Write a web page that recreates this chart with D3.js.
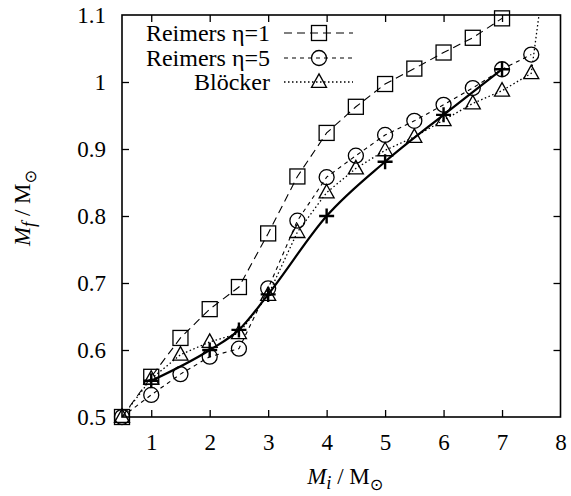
<!DOCTYPE html>
<html>
<head>
<meta charset="utf-8">
<script src="https://cdn.jsdelivr.net/npm/d3@7"></script>
<style>
  body { margin: 0; background: #fff; }
  svg text { font-family: "Liberation Serif", "Times New Roman", Times, serif; fill: #000; }
</style>
</head>
<body>
<div id="chart-area"></div>
<script>
// DATA ----------------------------------------------------------------------
const massInit = [0.5, 1, 1.5, 2, 2.5, 3, 3.5, 4, 4.5, 5, 5.5, 6, 6.5, 7]
const reimers1 = [0.5, 0.56, 0.618, 0.661, 0.694, 0.774, 0.859, 0.924, 0.963, 0.997, 1.020, 1.044, 1.066, 1.095]

const massInit5 = [0.5, 1, 1.5, 2, 2.5, 3, 3.5, 4, 4.5, 5, 5.5, 6, 6.5, 7, 7.5]
const reimers5 = [0.5, 0.533, 0.564, 0.590, 0.602, 0.692, 0.793, 0.858, 0.890, 0.921, 0.942, 0.966, 0.991, 1.019, 1.041]

const massInitB = [0.5, 1, 1.5, 2, 2.5, 3, 3.5, 4, 4.5, 5, 5.5, 6, 6.5, 7, 7.5, 7.7]
const bloecker = [0.5, 0.557, 0.593, 0.612, 0.625, 0.682, 0.776, 0.835, 0.871, 0.898, 0.918, 0.943, 0.968, 0.987, 1.013, 1.145]

const massInitP = [1, 2, 2.5, 3, 4, 5, 6, 7]
const plusSeries = [0.554, 0.600, 0.630, 0.683, 0.800, 0.881, 0.951, 1.019]

const xTicks = [1, 2, 3, 4, 5, 6, 7, 8]
const yTicks = [0.5, 0.6, 0.7, 0.8, 0.9, 1, 1.1]
const legendNames = ["Reimers η=1", "Reimers η=5", "Blöcker"]

// MARGIN CONVENTION ---------------------------------------------------------
const W = 571, H = 496
const MARGIN = { LEFT: 122, RIGHT: 10.5, TOP: 15, BOTTOM: 79 }
const WIDTH = W - MARGIN.LEFT - MARGIN.RIGHT
const HEIGHT = H - MARGIN.TOP - MARGIN.BOTTOM
const SERIF = '"Liberation Serif", "Times New Roman", Times, serif'

const svg = d3.select("#chart-area").append("svg")
  .attr("width", W)
  .attr("height", H)
const g = svg.append("g")
  .attr("transform", `translate(${MARGIN.LEFT}, ${MARGIN.TOP})`)

svg.append("defs").append("clipPath").attr("id", "plot-clip")
  .append("rect").attr("x", 0).attr("y", 0).attr("width", WIDTH).attr("height", HEIGHT)

// SCALES --------------------------------------------------------------------
const x = d3.scaleLinear().domain([0.5, 8]).range([0, WIDTH])
const y = d3.scaleLinear().domain([0.5, 1.1]).range([HEIGHT, 0])

const FONT = 23
const LEGEND_FONT = 24
const TICK = 7

// AXES (ticks inward, mirrored) --------------------------------------------
const axB = g.append("g").attr("transform", `translate(0, ${HEIGHT})`)
  .call(d3.axisBottom(x).tickValues(xTicks).tickSize(-TICK).tickPadding(TICK + 10).tickFormat(d3.format("d")))
const axT = g.append("g")
  .call(d3.axisTop(x).tickValues(xTicks).tickSize(-TICK).tickFormat(""))
const axL = g.append("g")
  .call(d3.axisLeft(y).tickValues(yTicks).tickSize(-TICK).tickPadding(TICK + 9).tickFormat(d => d3.format("~g")(d)))
const axR = g.append("g").attr("transform", `translate(${WIDTH}, 0)`)
  .call(d3.axisRight(y).tickValues(yTicks).tickSize(-TICK).tickFormat(""))

;[axB, axT, axL, axR].forEach(a => {
  a.attr("font-family", null)
  a.select(".domain").remove()
  a.selectAll(".tick line").attr("stroke", "#000").attr("stroke-width", 1.3)
  a.selectAll("text").style("font-size", FONT + "px").style("font-family", SERIF)
})
// end ticks sitting on corners are not drawn in the original
axB.selectAll(".tick line").filter(d => d === 8).remove()
axT.selectAll(".tick line").filter(d => d === 8).remove()
axL.selectAll(".tick line").filter(d => d === 0.5 || d === 1.1).remove()
axR.selectAll(".tick line").filter(d => d === 0.5 || d === 1.1).remove()

// SERIES --------------------------------------------------------------------
const series = [
  { xs: massInit,  ys: reimers1,   dash: "8,5",     width: 1.1, marker: "square",   curve: d3.curveLinear },
  { xs: massInit5, ys: reimers5,   dash: "4,4",     width: 1.1, marker: "circle",   curve: d3.curveLinear },
  { xs: massInitB, ys: bloecker,   dash: "1.5,2.5", width: 1.3, marker: "triangle", curve: d3.curveLinear },
  { xs: massInitP, ys: plusSeries, dash: null,      width: 2.2, marker: "plus",     curve: d3.curveMonotoneX }
]

const lines = g.append("g").attr("clip-path", "url(#plot-clip)")
const marks = g.append("g")

function drawMarker(sel, type, cx, cy) {
  const s = 7.5
  if (type === "square") {
    sel.append("rect").attr("x", cx - s).attr("y", cy - s).attr("width", 2 * s).attr("height", 2 * s)
      .attr("fill", "none").attr("stroke", "#000").attr("stroke-width", 1.3)
  } else if (type === "circle") {
    sel.append("circle").attr("cx", cx).attr("cy", cy).attr("r", s)
      .attr("fill", "none").attr("stroke", "#000").attr("stroke-width", 1.3)
  } else if (type === "triangle") {
    const h = s * 1.8
    sel.append("path")
      .attr("d", `M${cx},${cy - h * 0.6}L${cx + s},${cy + h * 0.4}L${cx - s},${cy + h * 0.4}Z`)
      .attr("fill", "none").attr("stroke", "#000").attr("stroke-width", 1.3)
  } else if (type === "plus") {
    sel.append("path")
      .attr("d", `M${cx - s},${cy}H${cx + s}M${cx},${cy - s}V${cy + s}`)
      .attr("fill", "none").attr("stroke", "#000").attr("stroke-width", 2.4)
  }
}

series.forEach(s => {
  const pts = s.xs.map((v, i) => [v, s.ys[i]])
  const line = d3.line().x(d => x(d[0])).y(d => y(d[1])).curve(s.curve)
  lines.append("path")
    .attr("d", line(pts))
    .attr("fill", "none")
    .attr("stroke", "#000")
    .attr("stroke-width", s.width)
    .attr("stroke-dasharray", s.dash)
  // markers are drawn only for points inside the y range
  pts.filter(p => p[1] <= 1.1).forEach(p => drawMarker(marks, s.marker, x(p[0]), y(p[1])))
})

// FRAME ---------------------------------------------------------------------
g.append("rect")
  .attr("width", WIDTH).attr("height", HEIGHT)
  .attr("fill", "none").attr("stroke", "#000").attr("stroke-width", 1.6)

// LEGEND --------------------------------------------------------------------
const legendRowY = [18, 43, 67]
series.slice(0, 3).forEach((s, i) => {
  const ly = legendRowY[i]
  const lg = g.append("g")
  lg.append("text")
    .attr("x", 148).attr("y", ly).attr("dy", "0.35em")
    .attr("text-anchor", "end")
    .style("font-size", LEGEND_FONT + "px").style("font-family", SERIF)
    .text(legendNames[i])
  lg.append("line")
    .attr("x1", 162).attr("x2", 231).attr("y1", ly).attr("y2", ly)
    .attr("stroke", "#000").attr("stroke-width", s.width)
    .attr("stroke-dasharray", s.dash)
  drawMarker(lg, s.marker, 197, ly)
})

// AXIS LABELS ---------------------------------------------------------------
function massLabel(sel, sub) {
  sel.style("font-size", FONT + "px").style("font-family", SERIF)
  sel.append("tspan").attr("font-style", "italic").text("M")
  sel.append("tspan").attr("font-style", "italic").style("font-size", (FONT * 0.8) + "px").attr("dy", 5).text(sub)
  sel.append("tspan").attr("dy", -5).text(" / M")
  sel.append("tspan").style("font-size", (FONT * 0.7) + "px").attr("dy", 6).style("font-family", "DejaVu Sans").text("⊙")
}

const xLab = svg.append("text")
  .attr("x", MARGIN.LEFT + WIDTH / 2 + 4).attr("y", 484)
  .attr("text-anchor", "middle")
massLabel(xLab, "i")

const yLab = svg.append("text")
  .attr("transform", `translate(30, ${MARGIN.TOP + HEIGHT / 2 - 8}) rotate(-90)`)
  .attr("text-anchor", "middle")
massLabel(yLab, "f")
</script>
</body>
</html>
